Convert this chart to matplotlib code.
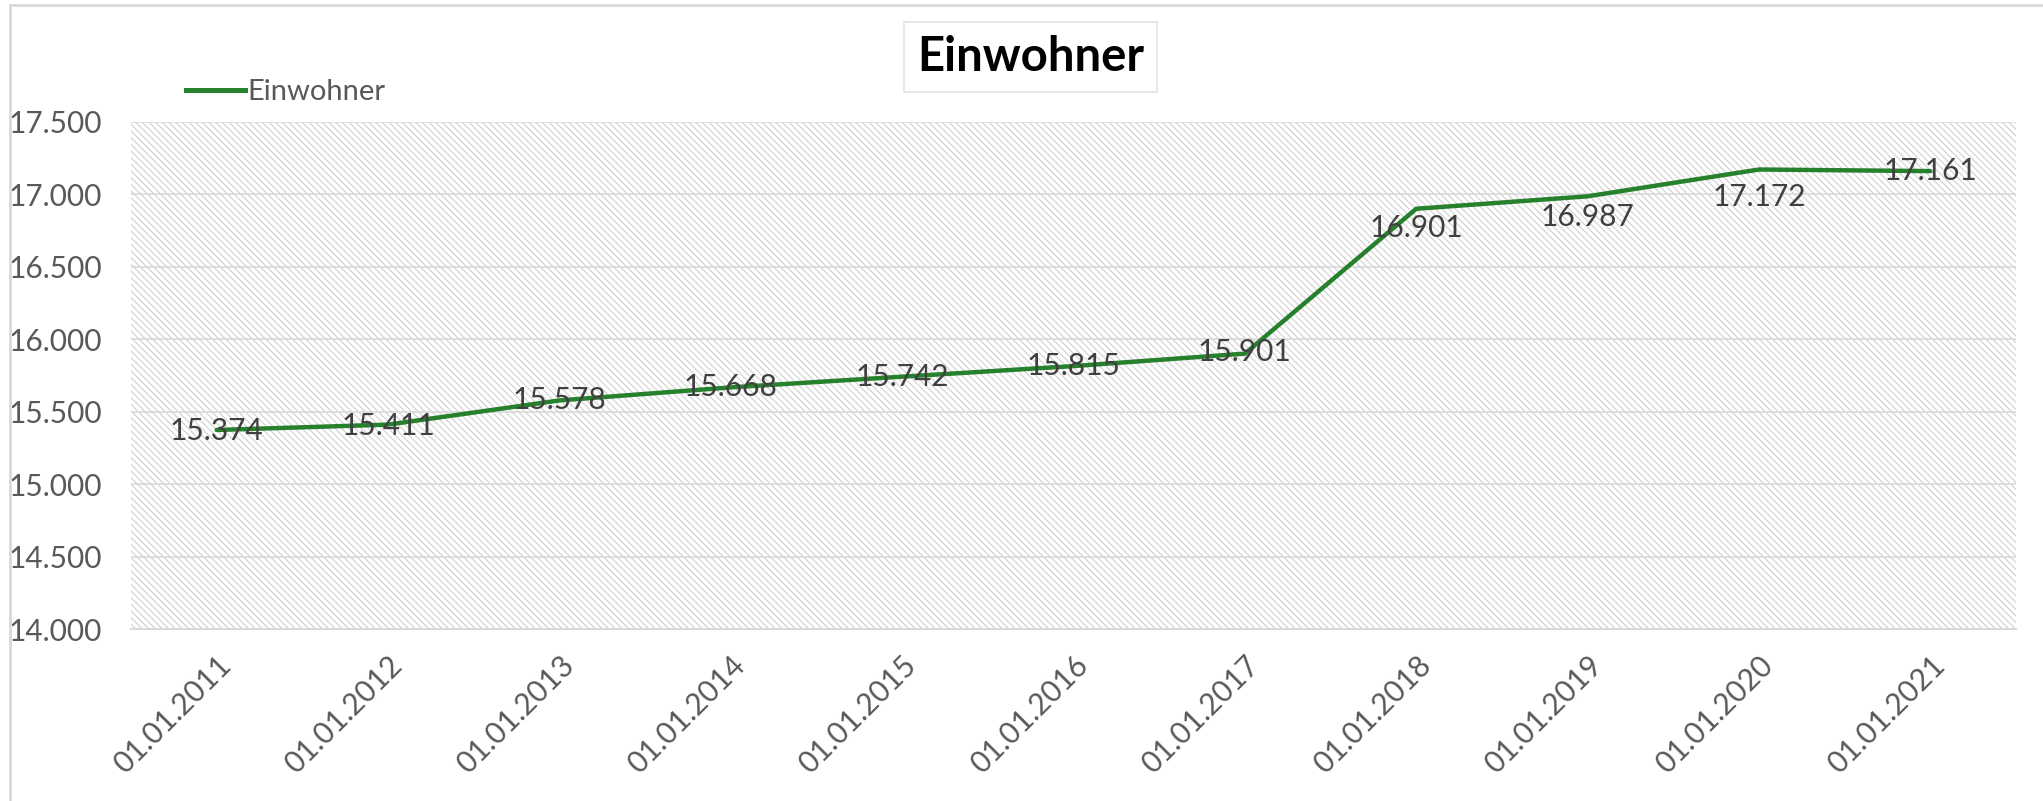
import matplotlib.pyplot as plt
from matplotlib.patches import Rectangle
from matplotlib.lines import Line2D

plt.rcParams['font.family'] = ['Lato', 'DejaVu Sans']
plt.rcParams['hatch.linewidth'] = 0.8

# Daten
dates = ['01.01.2011', '01.01.2012', '01.01.2013', '01.01.2014', '01.01.2015',
         '01.01.2016', '01.01.2017', '01.01.2018', '01.01.2019', '01.01.2020',
         '01.01.2021']
einwohner = [15374, 15411, 15578, 15668, 15742, 15815, 15901, 16901, 16987, 17172, 17161]
yticks = [14000, 14500, 15000, 15500, 16000, 16500, 17000, 17500]

# Verschiebung der Datenbeschriftungen nach unten (Punkte)
label_shift = [1, 1, 0, 0, 0, 0, -1, 14, 15, 20, 0]

grau = '#595959'
gruen = '#26802C'

fig = plt.figure(figsize=(20.43, 8.01), dpi=100)
ax = fig.add_axes([0.0641, 0.2147, 0.9227, 0.633])

# Hintergrund schraffiert
ax.add_patch(Rectangle((0, 0), 1, 1, transform=ax.transAxes, fill=False,
                       hatch='\\\\\\\\\\', edgecolor='#CFCFCF', linewidth=0, zorder=0))

x = list(range(len(dates)))
ax.plot(x, einwohner, color=gruen, linewidth=3.2, zorder=3, label='Einwohner',
        solid_capstyle='round', solid_joinstyle='miter')

for xi, v, dy in zip(x, einwohner, label_shift):
    ax.annotate(f"{v:,}".replace(',', '.'), (xi, v), xytext=(0, -dy),
                textcoords='offset points', ha='center', va='center',
                fontsize=21.5, color='#404040', zorder=4)

ax.set_xlim(-0.5, len(dates) - 0.5)
ax.set_ylim(14000, 17500)
ax.set_yticks(yticks)
ax.set_yticklabels([f"{t:,}".replace(',', '.') for t in yticks], fontsize=21.5, color=grau)
ax.set_xticks(x)
ax.set_xticklabels(dates, rotation=45, ha='right', va='top', rotation_mode='anchor',
                   fontsize=21.5, color=grau)
ax.tick_params(axis='both', length=0)
ax.tick_params(axis='y', pad=21)
ax.tick_params(axis='x', pad=16)

ax.grid(axis='y', color='#D9D9D9', linewidth=1.2, zorder=1)
ax.set_axisbelow(True)
for s in ['top', 'right', 'left']:
    ax.spines[s].set_visible(False)
ax.spines['bottom'].set_color('#D9D9D9')
ax.spines['bottom'].set_linewidth(1.5)

# Titel mit Rahmen
fig.text(0.5045, 0.929, 'Einwohner', ha='center', va='center', fontsize=34,
         fontweight='bold', color='black',
         bbox=dict(boxstyle='square,pad=0.28', facecolor='white', edgecolor='#E3E3E3', linewidth=1.2))

# Legende
leg = fig.legend(handles=[Line2D([], [], color=gruen, linewidth=3.6)], labels=['Einwohner'],
                 loc='center left', bbox_to_anchor=(0.0855, 0.885), frameon=False,
                 fontsize=21, handlelength=2.0, handletextpad=0.1, borderaxespad=0)
for t in leg.get_texts():
    t.set_color(grau)

# äußerer Rahmen
fig.add_artist(Line2D([10 / 2043, 10 / 2043], [0, 1 - 5 / 801], transform=fig.transFigure,
                      color='#D9D9D9', linewidth=2))
fig.add_artist(Line2D([10 / 2043, 1], [1 - 5 / 801, 1 - 5 / 801], transform=fig.transFigure,
                      color='#D9D9D9', linewidth=2))

plt.savefig('out.png', dpi=100)
